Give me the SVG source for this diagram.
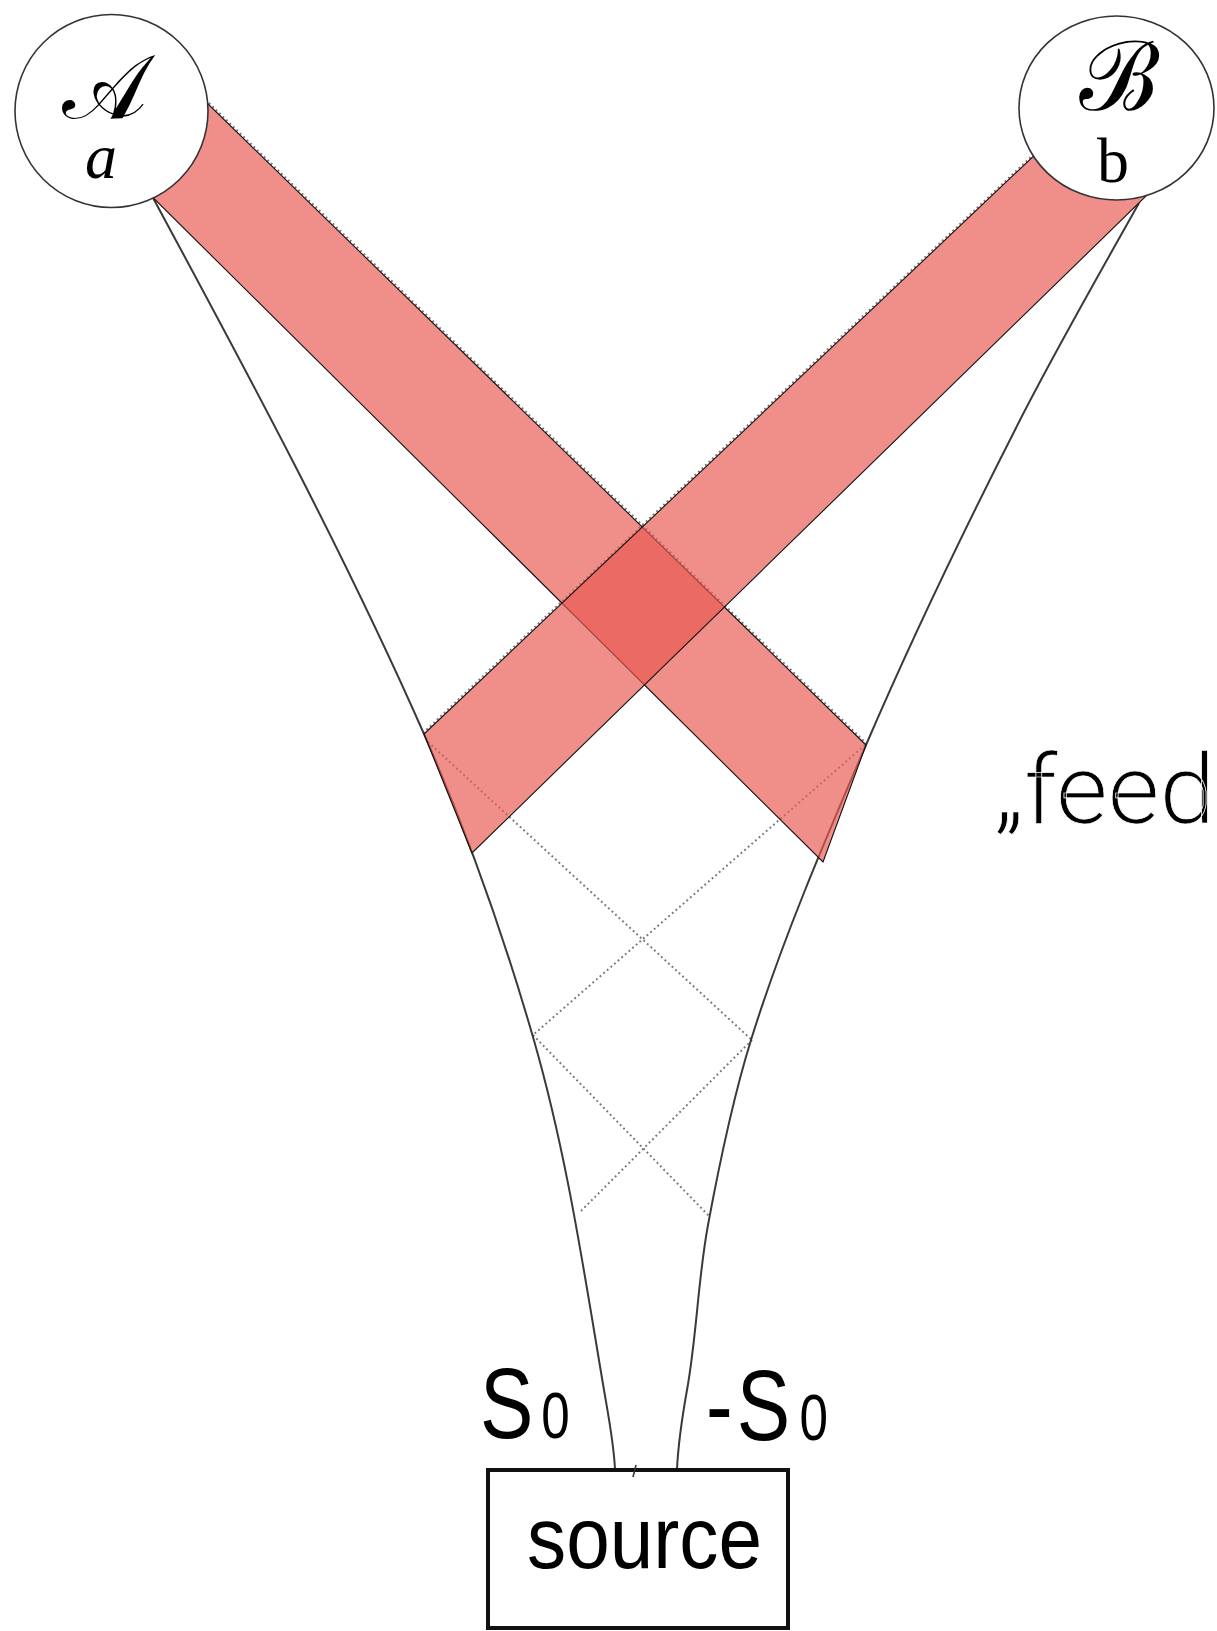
<svg xmlns="http://www.w3.org/2000/svg" width="1217" height="1631" viewBox="0 0 1217 1631">
<style>
.curve{fill:none;stroke:#3a3a3a;stroke-width:2}
.dot{fill:none;stroke:#777;stroke-width:2;stroke-dasharray:1.8 3}
.band{fill:#e95952;fill-opacity:0.68;stroke:#111;stroke-width:1.1;stroke-linejoin:miter}
.node{fill:#fff;stroke:#333;stroke-width:1.6}
.serif{font-family:"Liberation Serif","DejaVu Serif",serif;fill:#000}
.sans{font-family:"Liberation Sans",Arial,sans-serif;fill:#000}
</style>
<rect width="1217" height="1631" fill="#fff"/>
<g id="connectors">
  <path class="dot" d="M209,103 L867,744"/>
  <path class="dot" d="M1034,154 L423,733"/>
  <path class="dot" d="M428,742 L752,1040"/>
  <path class="dot" d="M865,745 L533,1035"/>
  <path class="dot" d="M533,1035 L710,1217"/>
  <path class="dot" d="M752,1040 L579,1213"/>
  <path id="curve-left" class="curve" d="M152,196 C248.8,375.3 345.1,554.7 424,734 C468.4,835 503.7,936 533,1037 C567.1,1154.7 584,1272.3 604,1390 C608.5,1416.3 613.7,1442.7 615,1469"/>
  <path id="curve-right" class="curve" d="M1139,203 C1098.5,275.3 1056.9,347.7 1020,420 C964.8,528.3 912.6,636.7 866,745 C823.7,843.3 781.5,941.7 751,1040 C731.9,1101.7 719.4,1163.3 708,1225 C697.8,1280 696.9,1335 687,1390 C682.3,1416.3 678.3,1442.7 677,1469"/>
  <path class="band" id="band-a" d="M165,62 L866,745 L823,862 L109,154 Z"/>
  <path class="band" id="band-b" d="M1079,113 L424,734 L472,853 L1182,161 Z"/>
</g>
<g id="node-a">
  <circle class="node" cx="111.5" cy="111" r="96.5"/>
  <text class="serif" x="104" y="118" font-size="90" text-anchor="middle">𝒜</text>
  <text class="serif" x="101" y="178" font-size="64" font-style="italic" text-anchor="middle">a</text>
</g>
<g id="node-b">
  <ellipse class="node" cx="1116.5" cy="108" rx="97.5" ry="92"/>
  <text class="serif" x="1119" y="110" font-size="96" text-anchor="middle">ℬ</text>
  <text class="serif" x="1113" y="182" font-size="64" text-anchor="middle">b</text>
</g>
<g id="label-feed">
  <text x="995" y="823" font-size="96" font-weight="300" textLength="220" lengthAdjust="spacingAndGlyphs" stroke="#fff" stroke-width="0.7" style="font-family:Roboto,'Liberation Sans',sans-serif" fill="#000">„feed</text>
</g>
<g id="label-s0">
  <text class="sans" transform="translate(480,1438) scale(0.8,1)"><tspan font-size="100">S</tspan><tspan font-size="64" dx="10">0</tspan></text>
</g>
<g id="label-minus-s0">
  <text class="sans" transform="translate(706,1440) scale(0.8,1)"><tspan font-size="100">-</tspan><tspan font-size="100" dx="5">S</tspan><tspan font-size="64" dx="12">0</tspan></text>
</g>
<g id="node-source">
  <rect x="488" y="1470" width="300" height="158" fill="#fff" stroke="#111" stroke-width="4"/>
  <path d="M636,1465 L633,1477" stroke="#333" stroke-width="1.5" fill="none"/>
  <text class="sans" x="527" y="1568" font-size="88" textLength="235" lengthAdjust="spacingAndGlyphs">source</text>
</g>
</svg>
